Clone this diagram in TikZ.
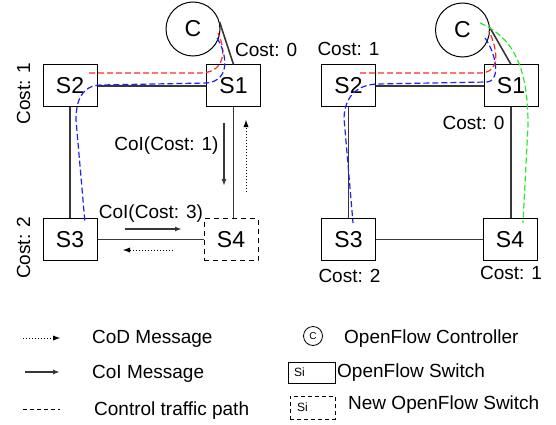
\documentclass[tikz,border=0pt]{standalone}
\usepackage{fontspec}
\setmainfont{Liberation Sans}
\usetikzlibrary{arrows.meta}
\definecolor{pred}{RGB}{255,40,40}
\definecolor{pblue}{RGB}{30,30,255}
\definecolor{pgreen}{RGB}{40,235,40}
\definecolor{lgray}{RGB}{55,55,55}
\begin{document}
\begin{tikzpicture}[x=1pt,y=-1pt,
  sw/.style={draw=black, line width=1pt, minimum width=54pt, minimum height=42pt, inner sep=0pt, font=\fontsize{23}{26}\selectfont},
  newsw/.style={sw, dash pattern=on 5pt off 4pt},
  ctrl/.style={circle, draw=black, line width=1pt, minimum size=54pt, inner sep=0pt, font=\fontsize{23}{26}\selectfont},
  link/.style={draw=lgray, line width=1.6pt},
  lbl/.style={font=\fontsize{19}{22}\selectfont, inner sep=0pt},
  ctlpath/.style={dash pattern=on 6pt off 3pt, line width=1.2pt},
  coi/.style={draw=lgray, line width=1.4pt, -{Latex[length=7pt,width=5pt]}},
  cod/.style={draw=black, line width=1pt, dash pattern=on 1pt off 2pt, -{Latex[length=7pt,width=5pt,line width=0pt]}},
]
\useasboundingbox (0,0) rectangle (556,425);

% ---------- left network ----------
\node[ctrl] (cl) at (193,29) {C};
\node[sw] (s2l) at (70,86) {S2};
\node[sw] (s1l) at (233.5,86) {S1};
\node[sw] (s3l) at (70,239.5) {S3};
\node[newsw] (s4l) at (231,239.5) {S4};

\draw[link] (cl.15) -- (s1l.north);
\draw[link] (s2l) -- (s1l);
\draw[link] (s2l) -- (s3l);
\draw[link] (s3l) -- (s4l);
\draw[link] (s1l.south) -- (s1l.south |- s4l.north);

\node[lbl, anchor=base west] (c0l) at (235,57) {Cost: 0};
\node[lbl, rotate=90, anchor=base] (c1l) at (30,93.5) {Cost: 1};
\node[lbl, rotate=90, anchor=base] (c2l) at (30,248) {Cost: 2};
\node[lbl, anchor=base] (coi1) at (166.5,150) {CoI(Cost: 1)};
\node[lbl, anchor=base] (coi3) at (151,218) {CoI(Cost: 3)};

\coordinate (a1s) at (224,123); \coordinate (a1e) at (224,186);
\coordinate (a2s) at (246,192); \coordinate (a2e) at (246,120);
\coordinate (a3s) at (125,229); \coordinate (a3e) at (182,229);
\coordinate (a4s) at (173,250); \coordinate (a4e) at (123,250);
\draw[coi] (a1s) -- (a1e);
\draw[cod] (a2s) -- (a2e);
\draw[coi] (a3s) -- (a3e);
\draw[cod] (a4s) -- (a4e);

\coordinate (rl0) at (89,73);
\coordinate (rl1) at (218,33);
\draw[ctlpath, pred] (rl0) -- (200,73) .. controls (222,73) and (228,55) .. (rl1);
\coordinate (bl0) at (217,38);
\coordinate (bl1) at (85,223);
\draw[ctlpath, pblue] (bl0) .. controls (226,52) and (232,80) .. (207,83) -- (100,85) .. controls (82,86) and (76,100) .. (76,120) -- (bl1);

% ---------- right network ----------
\node[ctrl] (cr) at (462.5,30) {C};
\node[sw] (s2r) at (348.5,86) {S2};
\node[sw] (s1r) at (511,86) {S1};
\node[sw] (s3r) at (348.5,239.5) {S3};
\node[sw] (s4r) at (510,239.5) {S4};

\draw[link] (cr.5) -- (s1r.north);
\draw[link] (s2r) -- (s1r);
\draw[link] (s2r) -- (s3r);
\draw[link] (s3r) -- (s4r);
\draw[link] (s1r.south) -- (s1r.south |- s4r.north);

\node[lbl, anchor=base] (c1r) at (348.5,56) {Cost: 1};
\node[lbl, anchor=base] (c0r) at (473.5,129) {Cost: 0};
\node[lbl, anchor=base] (c2r) at (349.5,282) {Cost: 2};
\node[lbl, anchor=base] (c4r) at (511,279) {Cost: 1};

\coordinate (rr0) at (360,73);
\coordinate (rr1) at (489,31);
\draw[ctlpath, pred] (rr0) -- (480,73) .. controls (498,73) and (500,55) .. (rr1);
\coordinate (br0) at (485,38);
\coordinate (br1) at (353,223);
\draw[ctlpath, pblue] (br0) .. controls (495,52) and (502,80) .. (487,82) -- (377,84) .. controls (358,85) and (345,95) .. (344,118) -- (br1);
\coordinate (gr0) at (480,23);
\coordinate (gr1) at (523,223);
\draw[ctlpath, pgreen] (gr0) .. controls (515,38) and (528,70) .. (528,125) -- (gr1);

% ---------- legend ----------
\coordinate (l1s) at (23,338); \coordinate (l1e) at (60,338);
\coordinate (l2s) at (25,372); \coordinate (l2e) at (60,372);
\coordinate (l3s) at (23,409); \coordinate (l3e) at (60,409);
\draw[cod] (l1s) -- (l1e);
\draw[coi] (l2s) -- (l2e);
\draw[line width=1pt, dash pattern=on 4pt off 3pt] (l3s) -- (l3e);
\node[lbl, anchor=base west] (t1) at (92,343) {CoD Message};
\node[lbl, anchor=base west] (t2) at (92,378) {CoI Message};
\node[lbl, anchor=base west] (t3) at (94,415) {Control traffic path};

\node[circle, draw=black, line width=0.8pt, minimum size=19pt, inner sep=0pt, font=\fontsize{10}{12}\selectfont] (lc) at (313,336) {C};
\node[lbl, anchor=base west] (t4) at (344,343) {OpenFlow Controller};
\node[draw=black, line width=0.8pt, minimum height=21pt, text width=35pt, inner xsep=6pt, inner ysep=0pt, align=left, font=\fontsize{12}{14}\selectfont] (lsw) at (311.5,372.5) {Si};
\node[lbl, anchor=base west] (t5) at (337,377) {OpenFlow Switch};
\node[draw=black, line width=0.8pt, dash pattern=on 4pt off 3pt, minimum height=23pt, text width=31pt, inner xsep=7pt, inner ysep=0pt, align=left, font=\fontsize{12}{14}\selectfont] (lnsw) at (312.5,407.5) {Si};
\node[lbl, anchor=base west] (t6) at (348,409) {New OpenFlow Switch};
\end{tikzpicture}
\end{document}
